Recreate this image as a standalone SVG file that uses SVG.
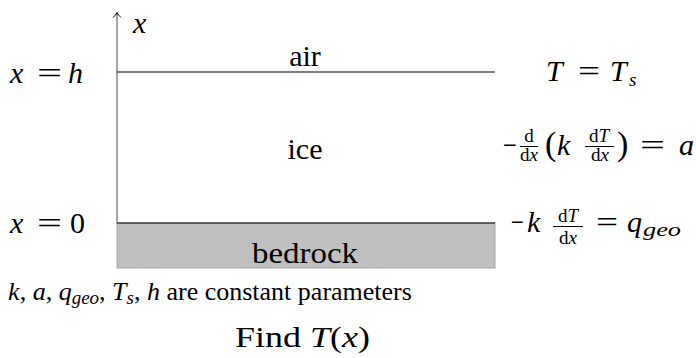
<svg xmlns="http://www.w3.org/2000/svg" width="696" height="358" viewBox="0 0 696 358" font-family="'Liberation Serif', serif">
<style>
text{font-family:'Liberation Serif',serif;font-size:30px;fill:#000}
.i{font-style:italic}
.s{font-size:19px}
.p{font-size:34px}
.bar{stroke:#000;stroke-width:1}
.mid{text-anchor:middle}
</style>
<rect width="696" height="358" fill="#fff"/>
<g id="bedrock">
<rect x="117" y="223" width="378" height="45" fill="#bfbfbf" stroke="#a6a6a6" stroke-width="1"/>
<text x="252" y="263" textLength="106" lengthAdjust="spacingAndGlyphs">bedrock</text>
</g>
<g id="connectors">
<line x1="117" y1="223" x2="117" y2="13" stroke="#808080" stroke-width="1.4"/>
<path d="M113,17.5 Q116,15 117,12.5 Q118,15 121,17.5" fill="none" stroke="#000" stroke-width="1"/>
<line x1="117" y1="72" x2="495" y2="72" stroke="#000" stroke-width="1.2"/>
<line x1="117" y1="223" x2="495" y2="223" stroke="#000" stroke-width="1.2"/>
</g>
<g id="axis-label"><text class="i" x="133" y="33">x</text></g>
<g id="x-h">
<text class="i" x="10" y="83">x</text>
<text x="37" y="83" textLength="25" lengthAdjust="spacingAndGlyphs">=</text>
<text class="i" x="68" y="83">h</text>
</g>
<g id="x-0">
<text class="i" x="10" y="233">x</text>
<text x="37" y="233" textLength="25" lengthAdjust="spacingAndGlyphs">=</text>
<text x="70" y="233">0</text>
</g>
<g id="air"><text class="mid" x="305" y="66">air</text></g>
<g id="ice"><text class="mid" x="305" y="159">ice</text></g>
<g id="bc-top">
<text class="i" x="546" y="81">T</text>
<text x="578" y="81" textLength="22" lengthAdjust="spacingAndGlyphs">=</text>
<text class="i" x="610" y="81">T</text>
<text class="i s" x="629" y="86">s</text>
</g>
<g id="equation">
<text x="503" y="155" textLength="14" lengthAdjust="spacingAndGlyphs">−</text>
<text class="s mid" x="529" y="142">d</text>
<line class="bar" x1="520" y1="146.5" x2="538" y2="146.5"/>
<text class="s mid" x="529" y="161">d<tspan class="i">x</tspan></text>
<text class="p" x="545" y="155">(</text>
<text class="i" x="557" y="155">k</text>
<text class="s mid" x="599" y="142">d<tspan class="i">T</tspan></text>
<line class="bar" x1="585" y1="146.5" x2="614" y2="146.5"/>
<text class="s mid" x="600" y="161">d<tspan class="i">x</tspan></text>
<text class="p" x="617" y="155">)</text>
<text x="640" y="155" textLength="25" lengthAdjust="spacingAndGlyphs">=</text>
<text class="i" x="679" y="155">a</text>
</g>
<g id="bc-bottom">
<text x="511" y="232" textLength="13" lengthAdjust="spacingAndGlyphs">−</text>
<text class="i" x="527" y="232">k</text>
<text class="s mid" x="568" y="222">d<tspan class="i">T</tspan></text>
<line class="bar" x1="553" y1="226.5" x2="583" y2="226.5"/>
<text class="s mid" x="568" y="244">d<tspan class="i">x</tspan></text>
<text x="596" y="232" textLength="22" lengthAdjust="spacingAndGlyphs">=</text>
<text class="i" x="627" y="232">q</text>
<text class="i s" x="643" y="236" textLength="38" lengthAdjust="spacingAndGlyphs">geo</text>
</g>
<g id="caption">
<text class="mid" x="210" y="300" style="font-size:26px"><tspan class="i">k</tspan>, <tspan class="i">a</tspan>, <tspan class="i">q</tspan><tspan class="i" style="font-size:19px" dy="4">geo</tspan><tspan dy="-4">, </tspan><tspan class="i">T</tspan><tspan class="i" style="font-size:19px" dy="4">s</tspan><tspan dy="-4">, </tspan><tspan class="i">h</tspan> are constant parameters</text>
<text x="235" y="347" textLength="135" lengthAdjust="spacingAndGlyphs">Find <tspan class="i">T</tspan>(<tspan class="i">x</tspan>)</text>
</g>
</svg>
